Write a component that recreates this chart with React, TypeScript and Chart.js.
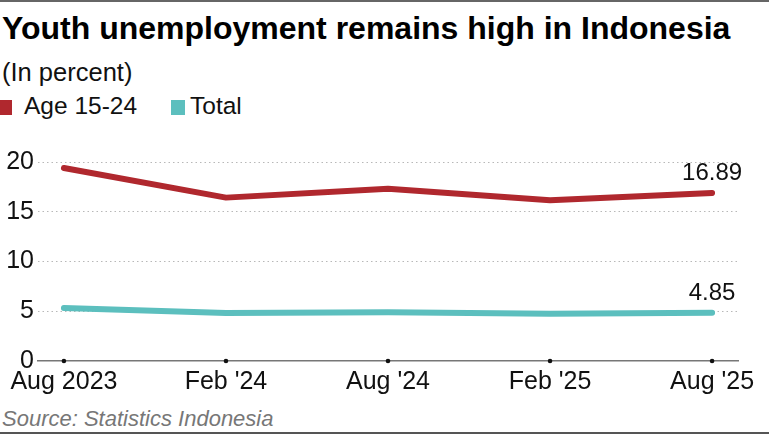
import React, { useEffect, useRef } from "react";
import { Chart, registerables } from "chart.js";

Chart.register(...registerables);

const categories = ["Aug 2023", "Feb '24", "Aug '24", "Feb '25", "Aug '25"];
const youthValues = [19.4, 16.42, 17.32, 16.16, 16.89];
const totalValues = [5.32, 4.82, 4.91, 4.76, 4.85];
const yTicks = [0, 5, 10, 15, 20];
const seriesNames = ["Age 15-24", "Total"];

const RED = "#b0282e";
const TEAL = "#5cbfbe";
const FONT = "'Liberation Sans', Arial, Helvetica, sans-serif";

export default function App() {
  const canvasRef = useRef<HTMLCanvasElement | null>(null);

  useEffect(() => {
    document.body.style.margin = "0";
    const canvas = canvasRef.current;
    if (!canvas) return;

    const endLabels = {
      id: "endLabels",
      afterDatasetsDraw(chart: any) {
        const ctx = chart.ctx;
        ctx.save();
        ctx.font = `24px ${FONT}`;
        ctx.fillStyle = "#111";
        ctx.textAlign = "center";
        ctx.textBaseline = "alphabetic";
        chart.data.datasets.forEach((ds: any, i: number) => {
          const meta = chart.getDatasetMeta(i);
          const last = meta.data[meta.data.length - 1];
          const v = ds.data[ds.data.length - 1].y;
          ctx.fillText(v.toFixed(2), last.x, last.y - 13);
        });
        ctx.restore();
      },
    };

    const tickDots = {
      id: "tickDots",
      afterDatasetsDraw(chart: any) {
        const ctx = chart.ctx;
        const xs = chart.scales.x;
        const ys = chart.scales.y;
        ctx.save();
        ctx.fillStyle = "#111";
        xs.ticks.forEach((t: any) => {
          const px = xs.getPixelForValue(t.value);
          ctx.beginPath();
          ctx.arc(px, ys.getPixelForValue(0), 2.3, 0, Math.PI * 2);
          ctx.fill();
        });
        ctx.restore();
      },
    };

    const chart = new Chart(canvas, {
      type: "line",
      data: {
        datasets: [
          {
            label: seriesNames[0],
            data: youthValues.map((v, i) => ({ x: i, y: v })),
            borderColor: RED,
            backgroundColor: RED,
            borderWidth: 6,
            pointRadius: 0,
            borderCapStyle: "round",
            borderJoinStyle: "round",
            tension: 0,
          },
          {
            label: seriesNames[1],
            data: totalValues.map((v, i) => ({ x: i, y: v })),
            borderColor: TEAL,
            backgroundColor: TEAL,
            borderWidth: 6,
            pointRadius: 0,
            borderCapStyle: "round",
            borderJoinStyle: "round",
            tension: 0,
          },
        ],
      },
      options: {
        animation: false,
        responsive: false,
        maintainAspectRatio: false,
        layout: { padding: { top: 32, right: 31, left: 0, bottom: 0 } },
        plugins: {
          legend: { display: false },
          tooltip: { enabled: false },
          title: { display: false },
        },
        scales: {
          x: {
            type: "linear",
            min: -0.16,
            max: 4.16,
            afterBuildTicks(scale: any) {
              scale.ticks = categories.map((_, i) => ({ value: i }));
            },
            afterFit(scale: any) {
              scale.height = 39;
              scale.paddingLeft = 0;
              scale.paddingRight = 0;
            },
            ticks: {
              autoSkip: false,
              maxRotation: 0,
              padding: 6,
              color: "#111",
              font: { family: FONT, size: 25 },
              callback: (v: any) => categories[v as number] ?? "",
            },
            grid: { display: false, drawTicks: false },
            border: { display: true, color: "#777", width: 1.5 },
          },
          y: {
            min: 0,
            max: 20,
            afterBuildTicks(scale: any) {
              scale.ticks = yTicks.map((v) => ({ value: v }));
            },
            afterFit(scale: any) {
              scale.width = 38;
            },
            ticks: {
              padding: 4,
              color: "#111",
              font: { family: FONT, size: 25 },
            },
            grid: {
              drawTicks: false,
              color: (c: any) => (c.tick && c.tick.value === 0 ? "rgba(0,0,0,0)" : "#b8b8b8"),
              lineWidth: 1,
            },
            border: { display: false, dash: [1.5, 3] },
          },
        },
      },
      plugins: [tickDots, endLabels],
    });

    return () => chart.destroy();
  }, []);

  const text = (style: React.CSSProperties): React.CSSProperties => ({
    position: "absolute",
    fontFamily: FONT,
    lineHeight: 1,
    whiteSpace: "nowrap",
    margin: 0,
    ...style,
  });

  return (
    <div style={{ position: "relative", width: 769, height: 434, overflow: "hidden", background: "#fff" }}>
      <div style={{ position: "absolute", left: 0, top: 0, width: 769, height: 2, background: "#666" }} />
      <div style={text({ left: 2, top: 12, fontSize: 32, fontWeight: 700, color: "#000" })}>
        Youth unemployment remains high in Indonesia
      </div>
      <div style={text({ left: 2, top: 60, fontSize: 25.5, color: "#111" })}>(In percent)</div>
      <div style={{ position: "absolute", left: -2, top: 100, width: 14, height: 15, background: RED }} />
      <div style={text({ left: 24, top: 94, fontSize: 24.5, color: "#111" })}>{seriesNames[0]}</div>
      <div style={{ position: "absolute", left: 171, top: 100, width: 14, height: 15, background: TEAL }} />
      <div style={text({ left: 190, top: 94, fontSize: 24.5, color: "#111" })}>{seriesNames[1]}</div>
      <canvas
        ref={canvasRef}
        width={769}
        height={270}
        style={{ position: "absolute", left: 0, top: 130, width: 769, height: 270 }}
      />
      <div style={text({ left: 2, top: 408, fontSize: 22, fontStyle: "italic", color: "#777" })}>
        Source: Statistics Indonesia
      </div>
      <div style={{ position: "absolute", left: 0, top: 432, width: 769, height: 2, background: "#555" }} />
    </div>
  );
}
